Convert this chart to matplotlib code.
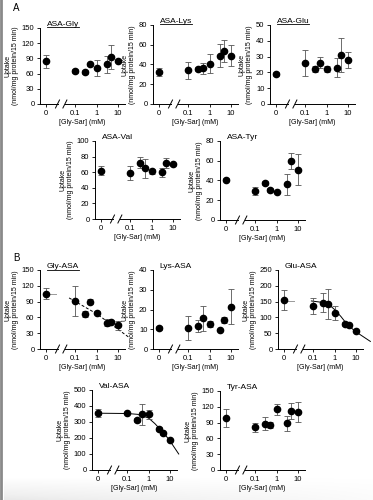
import numpy as np
import matplotlib
matplotlib.use('Agg')
import matplotlib.pyplot as plt
from matplotlib.lines import Line2D

plt.rcParams['font.family'] = ['Liberation Sans', 'DejaVu Sans']

# Gly-Sar concentrations (mM), 0 = control
conc = [0, 0.1, 0.3, 0.5, 1, 3, 5, 10]

asa_gly = [84, 65, 63, 78, 71, 78, 93, 85]
asa_gly_err = [12, 4, 4, 3, 15, 17, 24, 3]
asa_lys = [32, 34, 35, 36, 41, 49, 54, 49]
asa_lys_err = [4, 9, 2, 6, 10, 12, 11, 11]
asa_glu = [19, 26, 22, 26, 22, 23, 31, 28]
asa_glu_err = [1, 8, 2, 3.5, 2, 6, 10.5, 5]
asa_val = [62, 59, 72, 65, 61, 60, 72, 70]
asa_val_err = [6, 9, 7, 12, 3, 6, 6, 2]
asa_tyr = [41, 29, 37, 30, 28, 36, 60, 51]
asa_tyr_err = [2, 4, 2, 2, 1, 11, 8, 16]

gly_asa = [105, 91, 66, 90, 69, 50, 52, 45]
gly_asa_err = [11, 29, 6, 5, 3, 7, 4, 9]
lys_asa = [10.5, 10.5, 11.5, 15.5, 12.5, 9.8, 14.8, 21.5]
lys_asa_err = [1, 6, 3, 6.5, 1.5, 0.5, 1.5, 9]
glu_asa = [155, 137, 147, 142, 113, 80, 75, 58]
glu_asa_err = [33, 25, 30, 47, 22, 6, 5, 3]
val_asa = [354, 354, 312, 348, 348, 256, 229, 188]
val_asa_err = [25, 5, 15, 65, 30, 15, 8, 8]
tyr_asa = [98, 81, 88, 85, 115, 89, 112, 110]
tyr_asa_err = [17, 8, 12, 6, 11, 14, 16, 19]

# fitted curves
gly_fit_x = [0.05, 1, 35]
gly_fit_y = [97, 67, 22]
glu_fit_x = [0.08, 0.3, 0.6, 1, 2, 3, 5, 10, 50]
glu_fit_y = [152, 147, 138, 125, 103, 88, 72, 55, 24]
val_fit_x = [0, 0.1, 0.3, 1, 2, 3, 5, 10, 27]
val_fit_y = [355, 353, 348, 325, 290, 265, 235, 185, 100]

ZERO = -2.4
XL, XR = -2.68, 1.35


def fwd(c):
    c = np.asarray(c, float)
    return np.where(c > 0.01, np.log10(np.maximum(c, 0.01)), ZERO + c / 0.01 * 0.4)


def inv(v):
    v = np.asarray(v, float)
    return np.where(v > -2.0, 10 ** np.minimum(v, 5), (v - ZERO) * 0.01 / 0.4)


W, H = 373, 500
fig = plt.figure(figsize=(W / 100, H / 100), dpi=100)

panels = [
    # title, underline, y, err, ymax, ystep, (left, top, bottom)
    ('ASA-Gly', True, asa_gly, asa_gly_err, 150, 30, (40, 28, 104)),
    ('ASA-Lys', True, asa_lys, asa_lys_err, 80, 20, (153, 25, 104)),
    ('ASA-Glu', True, asa_glu, asa_glu_err, 50, 10, (270, 25, 104)),
    ('ASA-Val', False, asa_val, asa_val_err, 100, 20, (95, 141, 219)),
    ('ASA-Tyr', False, asa_tyr, asa_tyr_err, 80, 20, (220, 141, 220)),
    ('Gly-ASA', True, gly_asa, gly_asa_err, 150, 30, (40, 270, 349)),
    ('Lys-ASA', False, lys_asa, lys_asa_err, 40, 10, (153, 270, 349)),
    ('Glu-ASA', False, glu_asa, glu_asa_err, 250, 50, (278, 270, 349)),
    ('Val-ASA', False, val_asa, val_asa_err, 500, 100, (92, 390, 470)),
    ('Tyr-ASA', False, tyr_asa, tyr_asa_err, 150, 30, (220, 391, 470)),
]

axw = 85
underlined = []
axes = {}
for title, ul, y, err, ymax, ystep, (l, t, b) in panels:
    ax = fig.add_axes([l / W, 1 - b / H, axw / W, (b - t) / H])
    axes[title] = ax
    ax.set_xscale('function', functions=(fwd, inv))
    ax.set_xlim(inv(XL), inv(XR))
    ax.set_ylim(0, ymax)
    ax.set_yticks(np.arange(0, ymax + 1, ystep))
    ax.set_xticks([0, 0.1, 1, 10])
    ax.set_xticklabels(['0', '0.1', '1', '10'])
    ax.minorticks_off()
    ax.tick_params(labelsize=5.5, length=2.5, width=0.6, pad=1.5)
    for s in ['top', 'right', 'bottom']:
        ax.spines[s].set_visible(False)
    ax.spines['left'].set_linewidth(0.7)
    ax.errorbar(conc, y, yerr=err, fmt='o', color='black', ms=4.5,
                ecolor='#555555', elinewidth=0.6, capsize=2, capthick=0.6,
                zorder=3, clip_on=False)
    ax.set_ylabel('Uptake\n(nmol/mg protein/15 min)', fontsize=5, labelpad=2,
                  linespacing=1.1)
    ax.set_xlabel('[Gly-Sar] (mM)', fontsize=5, labelpad=1.5)
    txt = ax.text(0.08, 1.0, title, transform=ax.transAxes, fontsize=6,
                  va='bottom', ha='left')
    if ul:
        underlined.append(txt)

    # broken x axis
    h_px = b - t
    frac = lambda v: (v - XL) / (XR - XL)
    g0, g1 = frac(-1.85), frac(-1.5)
    ax.add_line(Line2D([0, g0], [0, 0], transform=ax.transAxes, color='black',
                       lw=0.7, clip_on=False))
    ax.add_line(Line2D([g1, 1], [0, 0], transform=ax.transAxes, color='black',
                       lw=0.7, clip_on=False))
    for gx in (g0, g1):
        ax.add_line(Line2D([gx - 2 / axw, gx + 2 / axw], [-4 / h_px, 4 / h_px],
                           transform=ax.transAxes, color='black', lw=0.7,
                           clip_on=False))

# fitted lines
ax = axes['Gly-ASA']
ax.plot([0, 0.012], [gly_asa[0] - 1, gly_asa[0] - 1], color='#999999', lw=0.7, zorder=2)
ax.plot(gly_fit_x, gly_fit_y, color='black', lw=0.7, ls=(0, (3, 2)), clip_on=False, zorder=2)
ax = axes['Glu-ASA']
ax.plot([0, 0.012], [glu_fit_y[0], glu_fit_y[0]], color='#999999', lw=0.7, zorder=2)
ax.plot(glu_fit_x, glu_fit_y, color='black', lw=0.7, clip_on=False, zorder=2)
ax = axes['Val-ASA']
ax.plot(val_fit_x, val_fit_y, color='black', lw=0.7, clip_on=False, zorder=2)

fig.text(13 / W, 1 - 8 / H, 'A', fontsize=7, va='center')
fig.text(13 / W, 1 - 258 / H, 'B', fontsize=7, va='center')

# scan artefacts: left border and faint bottom shading
fig.add_artist(Line2D([0.004, 0.004], [0, 1], transform=fig.transFigure,
                      color='#8a8a8a', lw=2))
bg = fig.add_axes([0.01, 0, 0.99, 0.045], zorder=-1)
grad = np.linspace(0, 1, 50)[:, None] * np.linspace(1, 0.2, 200)[None, :]
bg.imshow(grad, cmap='Greys', vmin=0, vmax=6, aspect='auto', origin='upper')
bg.axis('off')

fig.canvas.draw()
r = fig.canvas.get_renderer()
for txt in underlined:
    bb = txt.get_window_extent(r).transformed(fig.transFigure.inverted())
    fig.add_artist(Line2D([bb.x0, bb.x1], [bb.y0 + 0.001, bb.y0 + 0.001],
                          transform=fig.transFigure, color='black', lw=0.6))

fig.savefig('out.png', dpi=100)
